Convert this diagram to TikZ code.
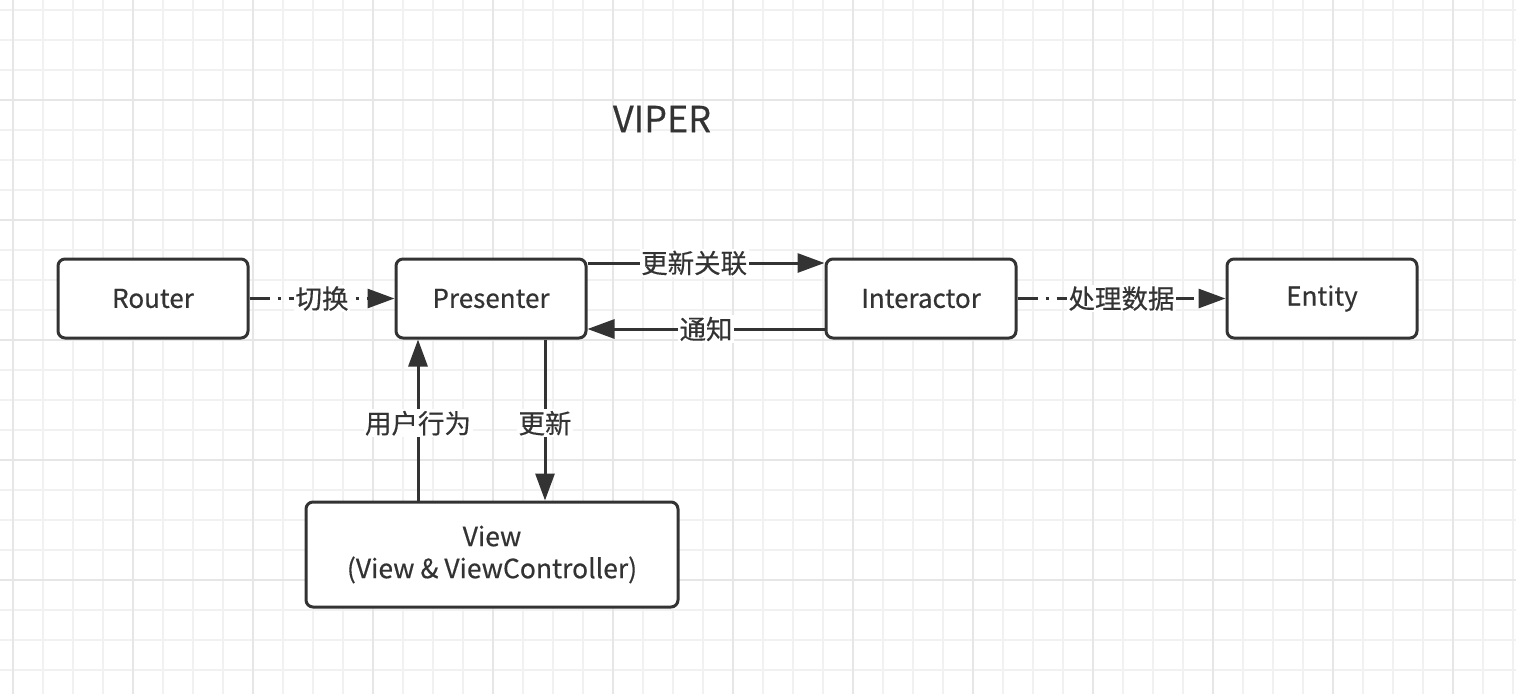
\documentclass[tikz,border=0pt]{standalone}
\usepackage{fontspec}
\setmainfont[FakeBold=0.4]{Noto Sans CJK SC}
\usetikzlibrary{arrows.meta}
\definecolor{gridminor}{HTML}{F1F1F1}
\definecolor{gridmajor}{HTML}{E6E6E6}
\definecolor{ink}{HTML}{333333}
\tikzset{
  box/.style={draw=ink, line width=3pt, rounded corners=7pt, fill=white,
    minimum width=190pt, minimum height=79pt, inner sep=0pt,
    font=\fontsize{26pt}{32pt}\selectfont, text=ink, align=center},
  conn/.style={draw=ink, line width=3pt, -{Triangle[length=27pt,width=19pt]}},
  dashdot/.style={dash pattern=on 20pt off 8pt on 3pt off 8pt},
  lbl/.style={fill=white, text=ink, inner sep=1.5pt,
    font=\fontsize{26.5pt}{30pt}\selectfont},
}
\begin{document}
\begin{tikzpicture}[x=1pt,y=-1pt]
\useasboundingbox (0,0) rectangle (1516,694);
\fill[white] (0,0) rectangle (1516,694);
% grid
\foreach \gx in {13,43,...,1513} \draw[gridminor, line width=2pt] (\gx,0) -- (\gx,694);
\foreach \gy in {10,40,...,690} \draw[gridminor, line width=2pt] (0,\gy) -- (1516,\gy);
\foreach \gx in {13,133,...,1513} \draw[gridmajor, line width=2pt] (\gx,0) -- (\gx,694);
\foreach \gy in {100,220,...,690} \draw[gridmajor, line width=2pt] (0,\gy) -- (1516,\gy);
% title
\node[text=ink, font=\fontsize{36pt}{40pt}\selectfont] (title) at (662,119) {VIPER};
% boxes
\node[box] (router) at (153,298.5) {Router};
\node[box] (presenter) at (491,298.5) {Presenter};
\node[box] (interactor) at (921,298.5) {Interactor};
\node[box] (entity) at (1322,298.5) {Entity};
\node[box, minimum width=372pt, minimum height=105pt, font=\fontsize{26.5pt}{32pt}\selectfont] (view) at (492,554.5) {View\\(View \& ViewController)};
% helper coordinates
\coordinate (upx) at (418,0);
\coordinate (dnx) at (545,0);
\coordinate (topy) at (0,263);
\coordinate (boty) at (0,329);
% connectors
\draw[conn, dashdot] (router.east) -- node[lbl] (l1) {切换} (presenter.west);
\draw[conn] (presenter.east |- topy) -- node[lbl, pos=0.45] (l2) {更新关联} (interactor.west |- topy);
\draw[conn] (interactor.west |- boty) -- node[lbl] (l3) {通知} (presenter.east |- boty);
\draw[conn, dashdot] (interactor.east) -- node[lbl] (l4) {处理数据} (entity.west);
\draw[conn] (view.north -| upx) -- node[lbl, pos=0.48] (l5) {用户行为} (presenter.south -| upx);
\draw[conn] (presenter.south -| dnx) -- node[lbl, pos=0.52] (l6) {更新} (view.north -| dnx);
\end{tikzpicture}
\end{document}
